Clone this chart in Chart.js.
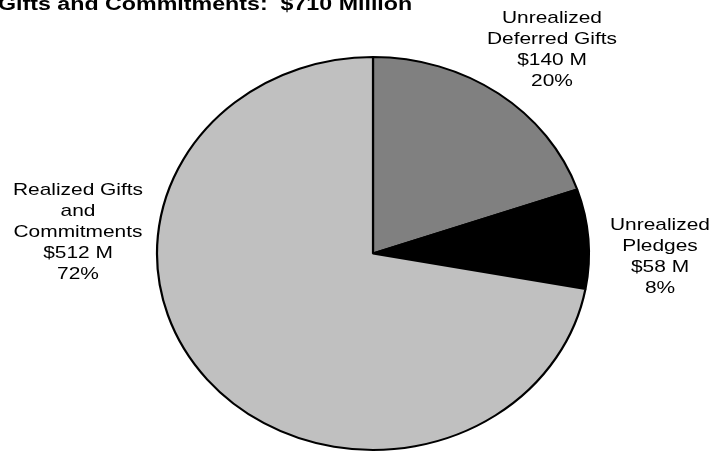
<!DOCTYPE html>
<html>
<head>
<meta charset="utf-8">
<script src="https://cdn.jsdelivr.net/npm/chart.js@4"></script>
<style>
  html, body { margin: 0; padding: 0; background: #fff; }
  #wrap { position: relative; width: 726px; height: 453px; }
</style>
</head>
<body>
<div id="wrap"><canvas id="pieChart" width="726" height="453"></canvas></div>
<script>
// Data
const categories = ['Unrealized Deferred Gifts', 'Unrealized Pledges', 'Realized Gifts and Commitments'];
const amounts = [140, 58, 512];           // $ millions
const shareLabels = ['20%', '8%', '72%'];
const nameLines = [['Unrealized', 'Deferred Gifts'], ['Unrealized', 'Pledges'], ['Realized Gifts', 'and', 'Commitments']];
const titleText = 'Gifts and Commitments:  $710 Million';

// Look
const sliceColors = ['#808080', '#000000', '#c0c0c0'];
const labelAnchors = [{ x: 552, y: 23 }, { x: 660, y: 230 }, { x: 78, y: 195 }]; // first baseline, centre x
const lineHeight = 21;
const stretchX = 216 / 196.5; // the original pie is a bit wider than tall

// squash the pie into the ellipse of the original
const ellipsePlugin = {
    id: 'ellipse',
    beforeDatasetsDraw(chart) {
        const arc = chart.getDatasetMeta(0).data[0];
        const ctx = chart.ctx;
        ctx.save();
        ctx.translate(arc.x, arc.y);
        ctx.scale(stretchX, 1);
        ctx.translate(-arc.x, -arc.y);
    },
    afterDatasetsDraw(chart) {
        chart.ctx.restore();
    }
};

function wideText(ctx, text, x, y, sx) {
    ctx.save();
    ctx.translate(x, y);
    ctx.scale(sx, 1);
    ctx.fillText(text, 0, 0);
    ctx.restore();
}

// title + slice labels
const labelPlugin = {
    id: 'sliceLabels',
    afterDraw(chart) {
        const ctx = chart.ctx;
        ctx.save();
        ctx.fillStyle = '#000';
        ctx.textBaseline = 'alphabetic';

        ctx.font = 'bold 18px "Liberation Sans", Arial, sans-serif';
        ctx.textAlign = 'left';
        wideText(ctx, titleText, -2, 10, 1.29);

        ctx.font = '17px "Liberation Sans", Arial, sans-serif';
        ctx.textAlign = 'center';
        categories.forEach((c, i) => {
            const lines = nameLines[i].concat(['$' + amounts[i] + ' M', shareLabels[i]]);
            const a = labelAnchors[i];
            lines.forEach((t, j) => wideText(ctx, t, a.x, a.y + j * lineHeight, 1.23));
        });
        ctx.restore();
    }
};

new Chart(document.getElementById('pieChart'), {
    type: 'pie',
    data: {
        labels: categories,
        datasets: [{
            data: amounts,
            backgroundColor: sliceColors,
            borderColor: '#000',
            borderWidth: 2,
            borderAlign: 'center'
        }]
    },
    options: {
        responsive: false,
        animation: false,
        layout: { padding: { left: 20, right: 0, top: 56, bottom: 2 } },
        plugins: {
            legend: { display: false },
            tooltip: { enabled: false },
            title: { display: false }
        }
    },
    plugins: [ellipsePlugin, labelPlugin]
});
</script>
</body>
</html>
